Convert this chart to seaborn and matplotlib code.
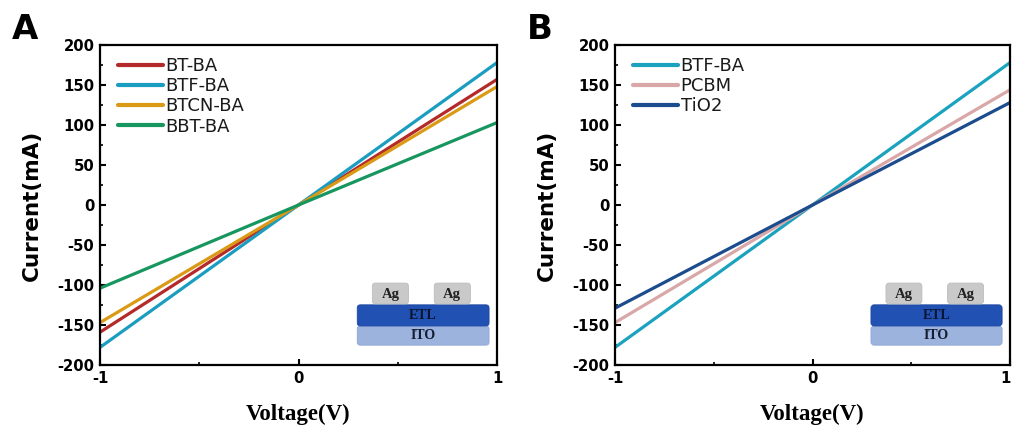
import numpy as np
import pandas as pd
import matplotlib
matplotlib.use("Agg")
import matplotlib.pyplot as plt
import matplotlib.transforms as mtransforms
from matplotlib.patches import FancyBboxPatch
import seaborn as sns

# ---------------- data ----------------
voltage = [-1.0, 0.0, 1.0]
bt_ba = [-159, 0, 157]
btf_ba = [-178, 0, 178]
btcn_ba = [-147, 0, 148]
bbt_ba = [-104, 0, 103]
pcbm = [-147, 0, 144]
tio2 = [-129, 0, 128]

labels_a = ["BT-BA", "BTF-BA", "BTCN-BA", "BBT-BA"]
series_a = [bt_ba, btf_ba, btcn_ba, bbt_ba]
colors_a = ["#B42A2A", "#1B9DC1", "#DA9A16", "#17975F"]

labels_b = ["BTF-BA", "PCBM", "TiO2"]
series_b = [btf_ba, pcbm, tio2]
colors_b = ["#1BA2BE", "#D9A7A7", "#1A4C8E"]

xticks = [-1, 0, 1]
yticks = [-200, -150, -100, -50, 0, 50, 100, 150, 200]


def long_df(labels, series):
    rows = []
    for lab, vals in zip(labels, series):
        for v, c in zip(voltage, vals):
            rows.append({"Voltage": v, "Current": c, "Sample": lab})
    return pd.DataFrame(rows)


sns.set_style("ticks")
plt.rcParams["font.family"] = ["DejaVu Sans"]
plt.rcParams["text.color"] = "black"
plt.rcParams["axes.labelcolor"] = "black"
plt.rcParams["xtick.color"] = "black"
plt.rcParams["ytick.color"] = "black"

fig = plt.figure(figsize=(10.13, 4.32), dpi=100)
ax_a = fig.add_axes([100 / 1013, (432 - 365) / 432, 397 / 1013, 320 / 432])
ax_b = fig.add_axes([615 / 1013, (432 - 365) / 432, 395 / 1013, 320 / 432])


def draw_inset(ax, w_px, h_px):
    aspect = w_px / h_px

    def box(x0, y0, x1, y1, fc, ec):
        p = FancyBboxPatch((x0, y0), x1 - x0, y1 - y0,
                           boxstyle="round,pad=0,rounding_size=0.008",
                           mutation_aspect=aspect,
                           transform=ax.transAxes, fc=fc, ec=ec, lw=0.6,
                           zorder=5, clip_on=False)
        ax.add_patch(p)

    # ITO
    box(0.648, 0.062, 0.980, 0.122, "#9CB3DE", "#8FA7D6")
    # ETL
    box(0.648, 0.122, 0.980, 0.188, "#2151B2", "#1D47A0")
    # Ag contacts
    box(0.686, 0.191, 0.777, 0.256, "#C9C9C9", "#BDBDBD")
    box(0.842, 0.191, 0.933, 0.256, "#C9C9C9", "#BDBDBD")
    tk = dict(transform=ax.transAxes, ha="center", va="center",
              family="Liberation Serif", weight="bold", zorder=6)
    ax.text(0.7315, 0.220, "Ag", fontsize=10.5, color="#222222", **tk)
    ax.text(0.8875, 0.220, "Ag", fontsize=10.5, color="#222222", **tk)
    ax.text(0.814, 0.154, "ETL", fontsize=10, color="#0B1430", **tk)
    ax.text(0.814, 0.091, "ITO", fontsize=10, color="#141C30", **tk)


def style_axis(ax, df, colors, letter, w_px, shift_last=False):
    sns.lineplot(data=df, x="Voltage", y="Current", hue="Sample",
                 palette=colors, linewidth=2.3, ax=ax, sort=False,
                 estimator=None, legend=True)
    ax.set_xlim(-1, 1)
    ax.set_ylim(-200, 200)
    ax.set_xticks(xticks)
    ax.set_xticklabels([str(t) for t in xticks])
    ax.set_yticks(yticks)
    ax.set_yticklabels([str(t) for t in yticks])
    ax.set_xticks([-0.5, 0.5], minor=True)
    ax.set_yticks(np.arange(-175, 200, 50), minor=True)
    ax.tick_params(axis="both", which="major", direction="in", length=4,
                   width=1.5, labelsize=10.7, pad=4, colors="black")
    ax.tick_params(axis="both", which="minor", direction="in", length=2.5,
                   width=1.2)
    for lab in ax.get_xticklabels() + ax.get_yticklabels():
        lab.set_fontweight("bold")
    if shift_last:
        lab = ax.get_xticklabels()[-1]
        off = mtransforms.ScaledTranslation(-4 / 100, 0, fig.dpi_scale_trans)
        lab.set_transform(lab.get_transform() + off)
    for s in ax.spines.values():
        s.set_linewidth(1.6)
        s.set_color("black")
    ax.set_xlabel("Voltage(V)", family="Liberation Serif", weight="bold",
                  fontsize=16.5, labelpad=13)
    ax.set_ylabel("Current(mA)", weight="bold", fontsize=15.5, labelpad=11)
    leg = ax.legend(loc="upper left", bbox_to_anchor=(0.045, 0.962),
                    frameon=False, fontsize=13, handlelength=2.5,
                    handletextpad=0.15, labelspacing=0.12, borderpad=0,
                    borderaxespad=0)
    for line in leg.get_lines():
        line.set_linewidth(3)
    for t in leg.get_texts():
        t.set_color("#1a1a1a")
    ax.text(-0.222, 1.1, letter, transform=ax.transAxes, fontsize=24.5,
            weight="bold", ha="left", va="top")
    draw_inset(ax, w_px, 320)


style_axis(ax_a, long_df(labels_a, series_a), colors_a, "A", 397)
style_axis(ax_b, long_df(labels_b, series_b), colors_b, "B", 395,
           shift_last=True)

fig.savefig("out.png", dpi=100)
